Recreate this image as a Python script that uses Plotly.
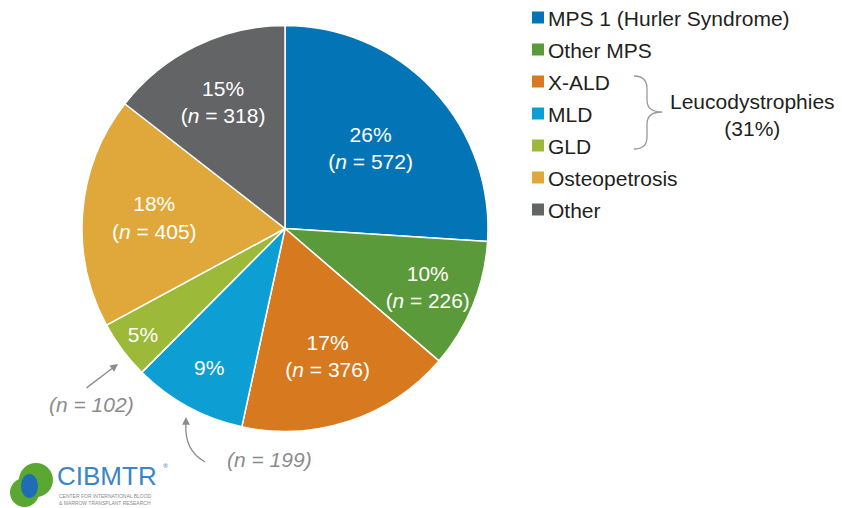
import plotly.graph_objects as go

# ---- data ----
categories = ["MPS 1 (Hurler Syndrome)", "Other MPS", "X-ALD", "MLD", "GLD", "Osteopetrosis", "Other"]
counts = [572, 226, 376, 199, 102, 405, 318]
pct_labels = ["26%", "10%", "17%", "9%", "5%", "18%", "15%"]
colors = ["#0374b5", "#5b9a3a", "#d7791f", "#0d9fd3", "#9db93a", "#e0a83a", "#636466"]
outside_n = {"GLD": 102, "MLD": 199}
group_label = "Leucodystrophies<br>(31%)"

W, H = 842, 508
FONT = "Liberation Sans, Arial, sans-serif"
def px(x):
    return x / W
def py(y):
    return 1 - y / H

# inside texts
texts = []
for c, n, p in zip(categories, counts, pct_labels):
    if c in outside_n:
        texts.append(p)
    else:
        texts.append(f"{p}<br>(<i>n</i> = {n})")

cx, cy, R = 285, 228.5, 203
fig = go.Figure(go.Pie(
    labels=categories, values=counts, text=texts,
    texttemplate="%{text}", textposition="inside",
    insidetextorientation="horizontal",
    sort=False, direction="clockwise", rotation=0,
    marker=dict(colors=colors, line=dict(color="white", width=1.5)),
    insidetextfont=dict(color="white", size=21, family=FONT),
    domain=dict(x=[px(cx - R), px(cx + R)], y=[py(cy + R), py(cy - R)]),
    showlegend=False, hoverinfo="label+value+percent",
))

annotations = []
shapes = []
# custom legend
leg_y0, leg_dy = 17.5, 32
for i, (c, col) in enumerate(zip(categories, colors)):
    yc = leg_y0 + i * leg_dy
    shapes.append(dict(type="rect", xref="paper", yref="paper",
                       x0=px(532), x1=px(544), y0=py(yc + 6), y1=py(yc - 6),
                       fillcolor=col, line=dict(width=0)))
    annotations.append(dict(x=px(546), y=py(yc + 1), xref="paper", yref="paper",
                            text=c, showarrow=False, xanchor="left", yanchor="middle",
                            font=dict(size=21, color="#231f20", family=FONT)))

# brace
brace = ("M {a} {b} Q {c} {b} {c} {d} L {c} {e} Q {c} {f} {g} {f} "
         "Q {c} {f} {c} {h} L {c} {i} Q {c} {j} {a} {j}")
pts = dict(a=px(634), b=py(76), c=px(647), d=py(89), e=py(100), f=py(112), g=px(662),
           h=py(124), i=py(137), j=py(149))
shapes.append(dict(type="path", xref="paper", yref="paper", path=brace.format(**pts),
                   line=dict(color="#9a9a9a", width=1.3)))
annotations.append(dict(x=px(752), y=py(115), xref="paper", yref="paper", text=group_label,
                        showarrow=False, xanchor="center", yanchor="middle",
                        font=dict(size=21, color="#231f20", family=FONT)))

# outside n labels
gray = "#8c8c8c"
annotations.append(dict(x=px(91), y=py(404), xref="paper", yref="paper",
                        text=f"<i>(n = {outside_n['GLD']})</i>", showarrow=False,
                        xanchor="center", yanchor="middle",
                        font=dict(size=21, color=gray, family=FONT)))
annotations.append(dict(x=px(269), y=py(459), xref="paper", yref="paper",
                        text=f"<i>(n = {outside_n['MLD']})</i>", showarrow=False,
                        xanchor="center", yanchor="middle",
                        font=dict(size=21, color=gray, family=FONT)))
# straight arrow for GLD
annotations.append(dict(x=px(118), y=py(364), xref="paper", yref="paper", text="",
                        showarrow=True, ax=-33, ay=25, arrowhead=2, arrowsize=1.2,
                        arrowwidth=1.3, arrowcolor=gray, standoff=0))
# curved arrow for MLD
shapes.append(dict(type="path", xref="paper", yref="paper",
                   path=f"M {px(205)} {py(462)} Q {px(184)} {py(450)} {px(186)} {py(424)}",
                   line=dict(color=gray, width=1.3)))
annotations.append(dict(x=px(186), y=py(417), xref="paper", yref="paper", text="",
                        showarrow=True, ax=0, ay=9, arrowhead=2, arrowsize=1.2,
                        arrowwidth=1.3, arrowcolor=gray, standoff=0))

# logo
shapes.append(dict(type="circle", xref="paper", yref="paper",
                   x0=px(10), x1=px(39), y0=py(507), y1=py(478),
                   fillcolor="#5aa832", line=dict(width=0)))
shapes.append(dict(type="circle", xref="paper", yref="paper",
                   x0=px(19), x1=px(53), y0=py(497), y1=py(463),
                   fillcolor="#5aa832", line=dict(width=0)))
shapes.append(dict(type="circle", xref="paper", yref="paper",
                   x0=px(21), x1=px(38), y0=py(498), y1=py(474),
                   fillcolor="#1e6db5", line=dict(width=0)))
annotations.append(dict(x=px(56), y=py(476), xref="paper", yref="paper", text="CIBMTR",
                        showarrow=False, xanchor="left", yanchor="middle", borderpad=0,
                        font=dict(size=26, color="#3a86c6", family=FONT)))
annotations.append(dict(x=px(161), y=py(466), xref="paper", yref="paper", text="®",
                        showarrow=False, xanchor="left", yanchor="middle",
                        font=dict(size=6, color="#3a86c6")))
annotations.append(dict(x=px(58), y=py(499), xref="paper", yref="paper",
                        text="CENTER FOR INTERNATIONAL BLOOD<br>&amp; MARROW TRANSPLANT RESEARCH",
                        showarrow=False, xanchor="left", yanchor="middle", align="left", borderpad=0,
                        font=dict(size=5, color="#8a8a8a", family=FONT)))

fig.update_layout(width=W, height=H, margin=dict(l=0, r=0, t=0, b=0),
                  paper_bgcolor="white", plot_bgcolor="white",
                  shapes=shapes, annotations=annotations)
fig.write_html("out.html", config={"displayModeBar": False},
               post_script="document.body.style.margin='0';document.body.style.overflow='hidden';")
